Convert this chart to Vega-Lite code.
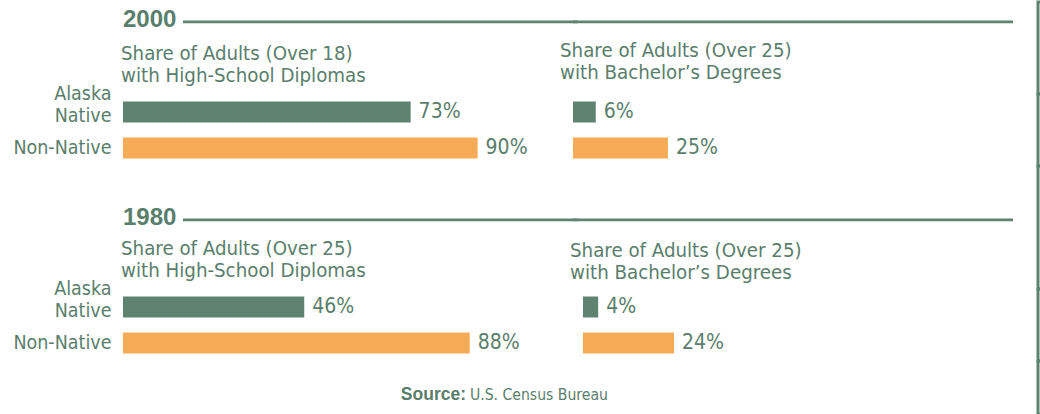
{
  "$schema": "https://vega.github.io/schema/vega-lite/v6.json",
  "background": "white",
  "padding": {"left": 12, "top": 0, "right": 0, "bottom": 0},
  "columns": 3,
  "bounds": "flush",
  "align": "each",
  "spacing": 0,
  "datasets": {
    "hs2000": [{"group": "Alaska Native", "value": 0.73}, {"group": "Non-Native", "value": 0.90}],
    "ba2000": [{"group": "Alaska Native", "value": 0.06}, {"group": "Non-Native", "value": 0.25}],
    "hs1980": [{"group": "Alaska Native", "value": 0.46}, {"group": "Non-Native", "value": 0.88}],
    "ba1980": [{"group": "Alaska Native", "value": 0.04}, {"group": "Non-Native", "value": 0.24}],
    "y2000": [{"year": "2000"}],
    "y1980": [{"year": "1980"}],
    "source": [{"a": "Source:", "b": "U.S. Census Bureau"}]
  },
  "config": {
    "font": "DejaVu Sans Condensed, Liberation Sans, sans-serif",
    "view": {"stroke": null},
    "axis": {"grid": false},
    "title": {"anchor": "start", "frame": "group", "font": "DejaVu Sans Condensed, Liberation Sans, sans-serif", "fontSize": 20.3, "fontWeight": "normal", "color": "#5a7e6c", "lineHeight": 22}
  },
  "concat": [
    {
      "width": 450, "height": 92,
      "data": {"name": "y2000"},
      "layer": [
        {"mark": {"type": "rule", "color": "#5e8371", "strokeWidth": 2.7},
         "encoding": {
           "x": {"datum": 0.1333, "type": "quantitative", "scale": {"domain": [0, 1], "nice": false}, "axis": null},
           "x2": {"datum": 1.01},
           "y": {"datum": 0.7848, "type": "quantitative", "scale": {"domain": [0, 1], "nice": false}, "axis": null}}},
        {"mark": {"type": "text", "align": "left", "baseline": "middle", "dy": -2, "font": "Liberation Sans", "fontWeight": "bold", "fontSize": 24, "color": "#5a7e6c"},
         "encoding": {
           "text": {"field": "year"},
           "x": {"datum": 0, "type": "quantitative"},
           "y": {"datum": 0.7848, "type": "quantitative"}}}
      ]
    },
    {
      "width": 440, "height": 92,
      "data": {"name": "y2000"},
      "mark": {"type": "rule", "color": "#5e8371", "strokeWidth": 2.7},
      "encoding": {"y": {"datum": 0.7848, "type": "quantitative", "scale": {"domain": [0, 1], "nice": false}, "axis": null}}
    },
    {
      "width": 0, "height": 92, "data": {"values": []}, "mark": "text", "encoding": {},
      "view": {"stroke": "#5e8371", "strokeWidth": 3}
    },
    {
      "width": 394, "height": 72,
      "title": {"text": ["Share of Adults (Over 18)", "with High-School Diplomas"], "offset": -2.5, "dx": -2},
      "data": {"name": "hs2000"},
      "encoding": {
        "y": {"field": "group", "type": "nominal", "sort": null,
              "scale": {"domain": ["Alaska Native", "Non-Native"], "paddingInner": 0.4167, "paddingOuter": 0.2083},
              "axis": {"title": null, "domain": false, "ticks": false, "labelPadding": 12, "labelFontSize": 19.5, "labelColor": "#5a7e6c", "labelLineHeight": 21.6,
                       "labelExpr": "datum.value == 'Alaska Native' ? ['Alaska', 'Native'] : datum.value",
                       "labelOffset": {"condition": {"test": "datum.value == 'Alaska Native'", "value": -18}, "value": 0}}},
        "x": {"field": "value", "type": "quantitative", "scale": {"domain": [0, 1], "nice": false}, "axis": null}
      },
      "layer": [
        {"mark": {"type": "bar"},
         "encoding": {"color": {"field": "group", "type": "nominal", "scale": {"domain": ["Alaska Native", "Non-Native"], "range": ["#5e8371", "#f8ab57"]}, "legend": null}}},
        {"mark": {"type": "text", "align": "left", "baseline": "middle", "dx": 8, "fontSize": 21, "color": "#5a7e6c"},
         "encoding": {"text": {"field": "value", "type": "quantitative", "format": ".0%"}}}
      ]
    },
    {
      "width": 465, "height": 72,
      "title": {"text": ["Share of Adults (Over 25)", "with Bachelor’s Degrees"], "offset": 10.5, "dx": -13},
      "data": {"name": "ba2000"},
      "encoding": {
        "y": {"field": "group", "type": "nominal", "sort": null,
              "scale": {"domain": ["Alaska Native", "Non-Native"], "paddingInner": 0.4167, "paddingOuter": 0.2083}, "axis": null},
        "x": {"field": "value", "type": "quantitative", "scale": {"domain": [0, 1.225], "nice": false}, "axis": null}
      },
      "layer": [
        {"mark": {"type": "bar"},
         "encoding": {"color": {"field": "group", "type": "nominal", "scale": {"domain": ["Alaska Native", "Non-Native"], "range": ["#5e8371", "#f8ab57"]}, "legend": null}}},
        {"mark": {"type": "text", "align": "left", "baseline": "middle", "dx": 8, "fontSize": 21, "color": "#5a7e6c"},
         "encoding": {"text": {"field": "value", "type": "quantitative", "format": ".0%"}}}
      ]
    },
    {
      "width": 0, "height": 72, "data": {"values": []}, "mark": "text", "encoding": {},
      "view": {"stroke": "#5e8371", "strokeWidth": 3}
    },
    {
      "width": 450, "height": 123,
      "data": {"name": "y1980"},
      "layer": [
        {"mark": {"type": "rule", "color": "#5e8371", "strokeWidth": 2.7},
         "encoding": {
           "x": {"datum": 0.1333, "type": "quantitative", "scale": {"domain": [0, 1], "nice": false}, "axis": null},
           "x2": {"datum": 1.01},
           "y": {"datum": 0.5626, "type": "quantitative", "scale": {"domain": [0, 1], "nice": false}, "axis": null}}},
        {"mark": {"type": "text", "align": "left", "baseline": "middle", "dy": -1.5, "font": "Liberation Sans", "fontWeight": "bold", "fontSize": 24, "color": "#5a7e6c"},
         "encoding": {
           "text": {"field": "year"},
           "x": {"datum": 0, "type": "quantitative"},
           "y": {"datum": 0.5626, "type": "quantitative"}}}
      ]
    },
    {
      "width": 440, "height": 123,
      "data": {"name": "y1980"},
      "mark": {"type": "rule", "color": "#5e8371", "strokeWidth": 2.7},
      "encoding": {"y": {"datum": 0.5626, "type": "quantitative", "scale": {"domain": [0, 1], "nice": false}, "axis": null}}
    },
    {
      "width": 0, "height": 123, "data": {"values": []}, "mark": "text", "encoding": {},
      "view": {"stroke": "#5e8371", "strokeWidth": 3}
    },
    {
      "width": 394, "height": 72,
      "title": {"text": ["Share of Adults (Over 25)", "with High-School Diplomas"], "offset": -3.2, "dx": -2},
      "data": {"name": "hs1980"},
      "encoding": {
        "y": {"field": "group", "type": "nominal", "sort": null,
              "scale": {"domain": ["Alaska Native", "Non-Native"], "paddingInner": 0.4167, "paddingOuter": 0.2083},
              "axis": {"title": null, "domain": false, "ticks": false, "labelPadding": 12, "labelFontSize": 19.5, "labelColor": "#5a7e6c", "labelLineHeight": 21.6,
                       "labelExpr": "datum.value == 'Alaska Native' ? ['Alaska', 'Native'] : datum.value",
                       "labelOffset": {"condition": {"test": "datum.value == 'Alaska Native'", "value": -18}, "value": 0}}},
        "x": {"field": "value", "type": "quantitative", "scale": {"domain": [0, 1], "nice": false}, "axis": null}
      },
      "layer": [
        {"mark": {"type": "bar"},
         "encoding": {"color": {"field": "group", "type": "nominal", "scale": {"domain": ["Alaska Native", "Non-Native"], "range": ["#5e8371", "#f8ab57"]}, "legend": null}}},
        {"mark": {"type": "text", "align": "left", "baseline": "middle", "dx": 8, "fontSize": 21, "color": "#5a7e6c"},
         "encoding": {"text": {"field": "value", "type": "quantitative", "format": ".0%"}}}
      ]
    },
    {
      "width": 465, "height": 72,
      "title": {"text": ["Share of Adults (Over 25)", "with Bachelor’s Degrees"], "offset": 5.8, "dx": -3},
      "data": {"name": "ba1980"},
      "encoding": {
        "y": {"field": "group", "type": "nominal", "sort": null,
              "scale": {"domain": ["Alaska Native", "Non-Native"], "paddingInner": 0.4167, "paddingOuter": 0.2083}, "axis": null},
        "x": {"field": "value", "type": "quantitative", "scale": {"domain": [-0.02635, 1.199], "nice": false}, "axis": null}
      },
      "layer": [
        {"mark": {"type": "bar"},
         "encoding": {"color": {"field": "group", "type": "nominal", "scale": {"domain": ["Alaska Native", "Non-Native"], "range": ["#5e8371", "#f8ab57"]}, "legend": null}}},
        {"mark": {"type": "text", "align": "left", "baseline": "middle", "dx": 8, "fontSize": 21, "color": "#5a7e6c"},
         "encoding": {"text": {"field": "value", "type": "quantitative", "format": ".0%"}}}
      ]
    },
    {
      "width": 0, "height": 72, "data": {"values": []}, "mark": "text", "encoding": {},
      "view": {"stroke": "#5e8371", "strokeWidth": 3}
    },
    {
      "width": 450, "height": 53.5,
      "data": {"name": "source"},
      "layer": [
        {"mark": {"type": "text", "align": "right", "baseline": "alphabetic", "font": "Liberation Sans", "fontWeight": "bold", "fontSize": 17.5, "color": "#5a7e6c"},
         "encoding": {
           "text": {"field": "a"},
           "x": {"datum": 0.7622, "type": "quantitative", "scale": {"domain": [0, 1], "nice": false}, "axis": null},
           "y": {"datum": 0.2748, "type": "quantitative", "scale": {"domain": [0, 1], "nice": false}, "axis": null}}},
        {"mark": {"type": "text", "align": "left", "baseline": "alphabetic", "dx": 4, "fontSize": 15.6, "color": "#5a7e6c"},
         "encoding": {
           "text": {"field": "b"},
           "x": {"datum": 0.7622, "type": "quantitative"},
           "y": {"datum": 0.2748, "type": "quantitative"}}}
      ]
    },
    {
      "width": 465, "height": 53.5, "data": {"values": []}, "mark": "text", "encoding": {}
    },
    {
      "width": 0, "height": 53.5, "data": {"values": []}, "mark": "text", "encoding": {},
      "view": {"stroke": "#5e8371", "strokeWidth": 3}
    }
  ]
}
